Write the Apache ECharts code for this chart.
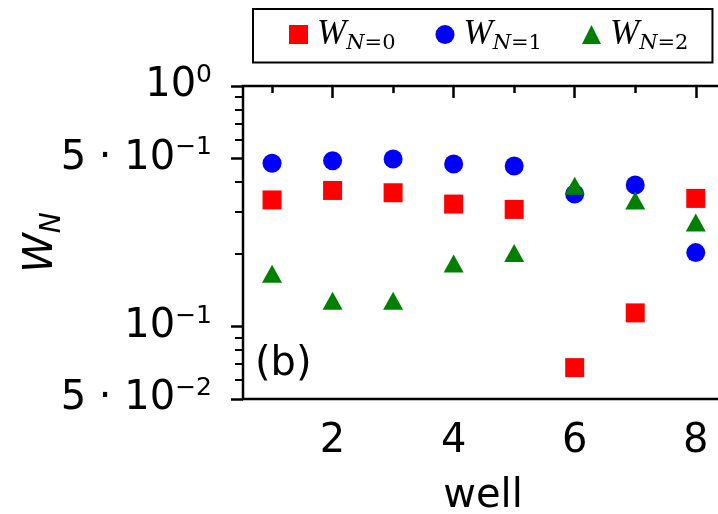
<!DOCTYPE html>
<html>
<head>
<meta charset="utf-8">
<script src="https://cdn.jsdelivr.net/npm/echarts@6/dist/echarts.min.js"></script>
<style>
  html, body { margin: 0; padding: 0; background: #fff; }
  #chart { width: 718px; height: 514px; }
</style>
</head>
<body>
<div id="chart"></div>
<script>
// ---- data ----
const wells = [1, 2, 3, 4, 5, 6, 7, 8];
const wN0 = [0.336, 0.368, 0.360, 0.323, 0.307, 0.0675, 0.114, 0.341];
const wN1 = [0.477, 0.489, 0.497, 0.474, 0.465, 0.356, 0.388, 0.203];
const wN2 = [0.166, 0.128, 0.128, 0.183, 0.202, 0.385, 0.334, 0.271];
const seriesNames = ['N=0', 'N=1', 'N=2'];

const xMajorTicks = [2, 4, 6, 8];
const xMinorTicks = [1, 3, 5, 7];
const yMajorTicks = [1, 0.5, 0.1, 0.05];
const yMajorLabels = [['10', '0'], ['5 \u00b7 10', '\u22121'], ['10', '\u22121'], ['5 \u00b7 10', '\u22122']];
const yMinorTicks = [0.06, 0.07, 0.08, 0.09, 0.2, 0.3, 0.4, 0.6, 0.7, 0.8, 0.9];
const yMin = 0.05, yMax = 1;
const xMin = 0.52, xMax = 8.45;

const L = Math.log10;
const toPts = arr => wells.map((w, i) => [w, L(arr[i])]);

const chart = echarts.init(document.getElementById('chart'), null, { renderer: 'canvas' });
const sans = 'DejaVu Sans';
const serif = 'Liberation Serif';

function yLabel(v) {
  for (let i = 0; i < yMajorTicks.length; i++) {
    if (Math.abs(L(yMajorTicks[i]) - v) < 1e-6) {
      return '{b|' + yMajorLabels[i][0] + '}{s|' + yMajorLabels[i][1] + '}';
    }
  }
  return '';
}

const option = {
  animation: false,
  backgroundColor: '#fff',
  title: {
    text: '(b)',
    left: 250, top: 340,
    textStyle: { fontFamily: sans, fontSize: 40, fontWeight: 'normal', color: '#000', lineHeight: 40 }
  },
  legend: {
    left: 253, top: 9,
    orient: 'horizontal',
    padding: [8, 24, 8, 36],
    itemGap: 40,
    itemWidth: 19, itemHeight: 19,
    borderColor: '#000', borderWidth: 2, borderRadius: 0,
    backgroundColor: '#fff',
    selectedMode: false,
    formatter: name => '{w|W}{n|N}{e|' + name.slice(1) + '}',
    textStyle: {
      color: '#000',
      rich: {
        w: { fontFamily: serif, fontStyle: 'italic', fontSize: 35, lineHeight: 40, padding: [0, 0, 0, 4], color: '#000' },
        n: { fontFamily: 'DejaVu Serif', fontStyle: 'italic', fontSize: 21, lineHeight: 20, verticalAlign: 'bottom', color: '#000' },
        e: { fontFamily: 'DejaVu Serif', fontSize: 21, lineHeight: 20, verticalAlign: 'bottom', color: '#000' }
      }
    },
    data: seriesNames
  },
  grid: {
    left: 243, top: 86, right: -5, bottom: 115,
    show: true, borderColor: '#000', borderWidth: 2.5,
    containLabel: false, outerBoundsMode: 'none'
  },
  xAxis: [
    {
      type: 'value', min: xMin, max: xMax,
      name: 'well', nameLocation: 'middle', nameGap: 78,
      nameTextStyle: { fontFamily: sans, fontSize: 40, color: '#000', lineHeight: 40 },
      axisLine: { show: false },
      splitLine: { show: false },
      axisTick: { show: true, length: 12, customValues: xMajorTicks, lineStyle: { color: '#000', width: 2.5 } },
      axisLabel: { show: true, customValues: xMajorTicks, margin: 23, fontFamily: sans, fontSize: 40, lineHeight: 40, color: '#000' }
    },
    {
      type: 'value', min: xMin, max: xMax, position: 'bottom',
      axisLine: { show: false },
      splitLine: { show: false },
      axisTick: { show: true, length: 7, customValues: xMinorTicks, lineStyle: { color: '#000', width: 2.5 } },
      axisLabel: { show: false }
    }
  ],
  yAxis: [
    {
      type: 'value', min: L(yMin), max: L(yMax),
      name: '{w|W}{n|N}', nameLocation: 'middle', nameRotate: 90, nameGap: 176,
      nameMoveOverlap: false,
      nameTextStyle: {
        rich: {
          w: { fontFamily: sans, fontStyle: 'italic', fontSize: 40, lineHeight: 50, color: '#000' },
          n: { fontFamily: sans, fontStyle: 'italic', fontSize: 28, lineHeight: 28, verticalAlign: 'bottom', color: '#000' }
        }
      },
      axisLine: { show: false },
      splitLine: { show: false },
      axisTick: { show: true, length: 12, customValues: yMajorTicks.map(L), lineStyle: { color: '#000', width: 2.5 } },
      axisLabel: {
        show: true, customValues: yMajorTicks.map(L), margin: 31,
        formatter: yLabel,
        rich: {
          b: { fontFamily: sans, fontSize: 40, lineHeight: 46, color: '#000' },
          s: { fontFamily: sans, fontSize: 25, lineHeight: 26, verticalAlign: 'top', color: '#000' }
        }
      }
    },
    {
      type: 'value', min: L(yMin), max: L(yMax), position: 'left',
      axisLine: { show: false },
      splitLine: { show: false },
      axisTick: { show: true, length: 8, customValues: yMinorTicks.map(L), lineStyle: { color: '#000', width: 2 } },
      axisLabel: { show: false }
    }
  ],
  series: [
    { name: seriesNames[0], type: 'scatter', symbol: 'rect', symbolSize: 19, itemStyle: { color: '#ff0000', opacity: 1 }, data: toPts(wN0), z: 2 },
    { name: seriesNames[1], type: 'scatter', symbol: 'circle', symbolSize: 19, itemStyle: { color: '#0000ff', opacity: 1 }, data: toPts(wN1), z: 3 },
    { name: seriesNames[2], type: 'scatter', symbol: 'triangle', symbolSize: [20, 18], itemStyle: { color: '#008000', opacity: 1 }, data: toPts(wN2), z: 4 }
  ]
};
chart.setOption(option);
</script>
</body>
</html>
